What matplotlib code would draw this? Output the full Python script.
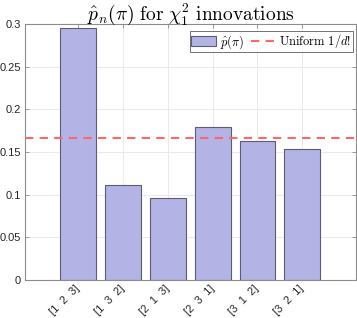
import numpy as np
import matplotlib
matplotlib.use("Agg")
import matplotlib.pyplot as plt

perms = ["[1  2  3]", "[1  3  2]", "[2  1  3]", "[2  3  1]", "[3  1  2]", "[3  2  1]"]
p_hat = [0.2957, 0.1113, 0.0957, 0.179, 0.163, 0.153]
uniform = 1 / 6

plt.rcParams['mathtext.fontset'] = 'cm'
plt.rcParams['font.family'] = 'Liberation Sans'

fig = plt.figure(figsize=(3.57, 3.18), dpi=100)
ax = fig.add_axes([25 / 357, 38 / 318, 331 / 357, 256 / 318])

x = np.arange(1, len(perms) + 1)
bars = ax.bar(x, p_hat, width=0.8, color='#b3b3e6', edgecolor='#5c5c74', linewidth=0.8,
              zorder=2)
line = ax.axhline(uniform, color='#ff6666', linestyle=(0, (4, 3)), linewidth=1.5, zorder=3)

ax.set_xlim(-0.19, 7.2)
ax.set_ylim(0, 0.3)
ax.set_yticks(np.arange(0, 0.31, 0.05))
ax.set_yticklabels(['0', '0.05', '0.1', '0.15', '0.2', '0.25', '0.3'])
ax.set_xticks(x)
ax.set_xticklabels(perms, rotation=45, ha='right', va='center', rotation_mode='anchor')

ax.grid(True, color='#e6e6e6', linewidth=0.6, zorder=0)
ax.set_axisbelow(True)
for s in ax.spines.values():
    s.set_color('#8c8c8c')
    s.set_linewidth(0.8)
ax.tick_params(direction='in', length=3, width=0.6, color='#8c8c8c', labelsize=8,
               labelcolor='#262626', top=True, right=True, pad=3)
ax.tick_params(axis='x', pad=5)

ax.set_title(r'$\hat{p}_n(\pi)\ \mathrm{for}\ \chi^2_1\ \mathrm{innovations}$',
             fontsize=14, pad=3)

leg = ax.legend([bars, line], [r'$\hat{p}(\pi)$', r'$\mathrm{Uniform}\ 1/d!$'],
                loc='upper right', ncol=2, fontsize=9, frameon=True, fancybox=False,
                borderpad=0.1, handlelength=2.0, handleheight=0.8, handletextpad=0.3,
                columnspacing=0.5, borderaxespad=0.0, bbox_to_anchor=(0.99, 0.972))
leg.get_frame().set_edgecolor('#333333')
leg.get_frame().set_linewidth(0.6)

fig.savefig('out.png', dpi=100)
